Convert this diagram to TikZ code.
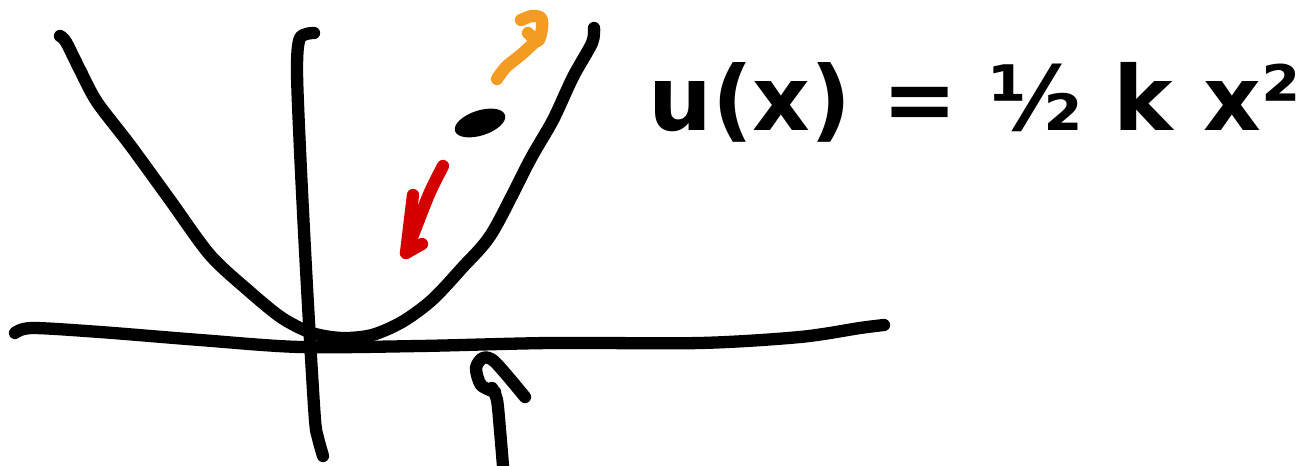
\documentclass[tikz,border=0pt]{standalone}
\usepackage{fontspec}
\setmainfont{DejaVu Sans}
\usetikzlibrary{shapes}

\tikzset{
	pen/.style={line width=7pt, line cap=round, line join=round},
}

\begin{document}
\begin{tikzpicture}[x=0.02cm,y=-0.02cm]
	\definecolor{inkorange}{RGB}{243,156,36}
	\definecolor{inkred}{RGB}{212,0,0}
	\useasboundingbox (0,0) rectangle (1299,466);

	% axes
	\draw[pen] plot[smooth] coordinates {(15,333) (32,328) (100,332) (200,340) (300,347) (420,346) (550,343) (700,343) (800,337) (860,328) (884,325)};
	\draw[pen] plot[smooth] coordinates {(314,33) (300,38) (297,70) (300,150) (305,250) (310,340) (315,420) (318,438) (323,456)};

	% potential
	\draw[pen] plot[smooth] coordinates {(60,36) (66,42) (80,70) (97,102) (130,145) (170,200) (210,255) (250,292) (282,318) (312,333) (342,338) (372,335) (402,322) (432,300) (462,268) (492,233) (530,160) (553,120) (573,77) (592,43) (594,28)};

	% ball
	\node[ellipse, fill=black, inner sep=0pt, minimum width=1.05cm, minimum height=0.5cm, rotate=18] (ball) at (480,123) {};

	% velocity
	\draw[pen, color=inkorange] plot[smooth] coordinates {(497,79) (506,67) (522,54) (537,40)};
	\draw[pen, color=inkorange] plot[smooth] coordinates {(528,33) (538,41) (542,28) (541,18) (532,16) (521,20)};

	% force
	\draw[pen, color=inkred] plot[smooth] coordinates {(443,166) (430,192) (418,222) (406,253)};
	\draw[pen, color=inkred] (413,195) -- (406,253) -- (422,244);

	% position
	\draw[pen] plot[smooth] coordinates {(503,466) (500,430) (497,400) (492,388)};
	\draw[pen] plot[smooth] coordinates {(495,392) (481,385) (476,368) (483,358) (495,362) (525,397)};

	\node[anchor=west, font=\fontsize{51}{60}\selectfont\bfseries] (law) at (642,102) {u(x) = ½ k x²};
\end{tikzpicture}
\end{document}
